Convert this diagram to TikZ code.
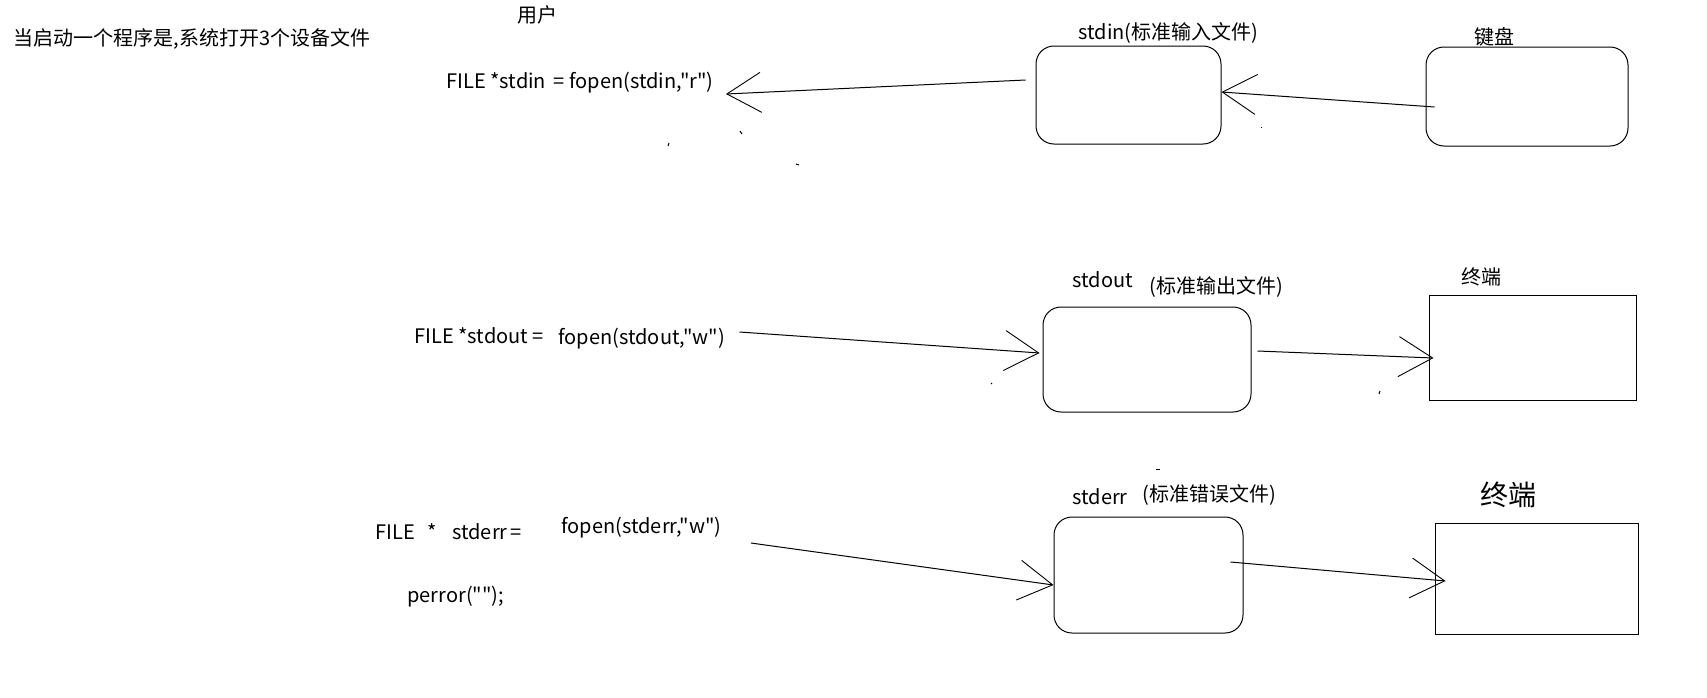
\documentclass[tikz,border=0pt]{standalone}
\usepackage{fontspec}
\newfontfamily\cjk{Noto Sans CJK SC}
\usetikzlibrary{arrows.meta, positioning}

\begin{document}
\begin{tikzpicture}[x=1pt, y=-1pt, line width=1pt,
  lbl/.style={inner sep=0pt, font=\cjk\fontsize{20}{23}\selectfont},
  rbox/.style={draw, rounded corners=18pt, inner sep=0pt},
  sbox/.style={draw, inner sep=0pt},
  barb/.style={-{Straight Barb[length=34pt, width=40pt, line width=0.9pt]}}]
\useasboundingbox[fill=white] (0,0) rectangle (1707,697);

% 标题
\node[lbl, anchor=west] (title) at (13,39) {当启动一个程序是,系统打开3个设备文件};
\node[lbl] (user) at (537,15) {用户};

% stdin 一行
\node[lbl, anchor=west] (fopenin) at (446,83) {FILE *stdin\,\ =\ fopen(stdin,"r")};
\node[rbox, minimum width=185pt, minimum height=98pt] (stdinbox) at (1128.5,95) {};
\node[lbl, anchor=west] (stdinlbl) at (1078,33) {stdin(标准输入文件)};
\node[rbox, minimum width=202pt, minimum height=99pt] (kbd) at (1527,96.5) {};
\node[lbl] (kbdlbl) at (1494,37) {键盘};
\draw[barb] ([xshift=-10pt,yshift=15pt]stdinbox.west) -- ([xshift=12pt,yshift=-11pt]fopenin.east);
\draw[barb] ([xshift=9pt,yshift=-10.5pt]kbd.west) -- ([yshift=3pt]stdinbox.east);

% stdout 一行
\node[lbl, anchor=west] (fileout) at (414,336) {FILE *stdout =};
\node[lbl, anchor=west] (fopenout) at (558,339) {fopen(stdout,"w")};
\node[rbox, minimum width=208pt, minimum height=105pt] (stdoutbox) at (1147,359.5) {};
\node[lbl, anchor=west] (stdoutlbl) at (1072,280) {stdout};
\node[lbl, anchor=west] (stdoutcn) at (1149,287) {(标准输出文件)};
\node[sbox, minimum width=207pt, minimum height=105pt] (term1) at (1532.5,347.5) {};
\node[lbl] (term1lbl) at (1481,277) {终端};
\draw[barb] ([xshift=14pt,yshift=7pt]fopenout.east) -- ([xshift=-3pt,yshift=6.5pt]stdoutbox.west);
\draw[barb] ([xshift=6pt,yshift=8.5pt]stdoutbox.east) -- ([xshift=5pt,yshift=-10.5pt]term1.west);

% stderr 一行
\node[lbl, anchor=west] (fileerr) at (375,532) {FILE\hspace{12pt}*\hspace{16pt}stderr\,=};
\node[lbl, anchor=west] (fopenerr) at (561,528) {fopen(stderr,"w")};
\node[lbl, anchor=west] (perr) at (407,597) {perror("");};
\node[rbox, minimum width=189pt, minimum height=116pt] (stderrbox) at (1148.5,575) {};
\node[lbl, anchor=west] (stderrlbl) at (1072,497) {stderr};
\node[lbl, anchor=west] (stderrcn) at (1142,495) {(标准错误文件)};
\node[sbox, minimum width=203pt, minimum height=111pt] (term2) at (1536.5,578.5) {};
\node[lbl, font=\cjk\fontsize{28}{32}\selectfont] (term2lbl) at (1508,495) {终端};
\draw[barb] ([xshift=29pt,yshift=-15pt]fopenerr.east) -- ([yshift=-10pt]stderrbox.west);
\draw[barb] ([xshift=-13pt,yshift=13pt]stderrbox.east) -- ([xshift=11pt,yshift=-2.5pt]term2.west);

% 杂点
\foreach \px/\py/\dx/\dy in {669/143/-1/3, 740/131/2/3, 796/164/3/1, 1261/127/0/1,
                              991/383/1/1, 1380/391/-1/3, 1156/469/4/0}
  \draw (\px,\py) -- ++(\dx,\dy);
\end{tikzpicture}
\end{document}
